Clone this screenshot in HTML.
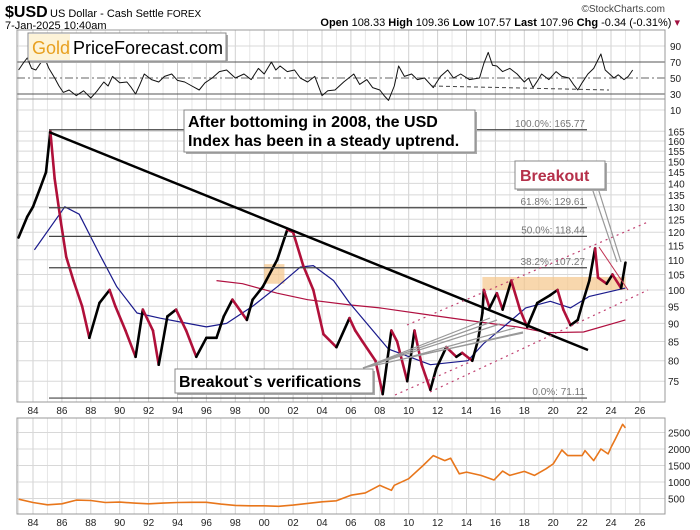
<!DOCTYPE html>
<html><head><meta charset="utf-8">
<style>
html,body{margin:0;padding:0;background:#fff;}
svg{display:block;font-family:"Liberation Sans",Arial,sans-serif;}
</style></head>
<body>
<svg id="chart" width="700" height="530" viewBox="0 0 700 530" xmlns="http://www.w3.org/2000/svg">
<g>
<text x="5" y="17" font-size="16" font-weight="bold">$USD</text>
<text x="50" y="17" font-size="11">US Dollar - Cash Settle <tspan font-size="10">FOREX</tspan></text>
<text x="5" y="29" font-size="11">7-Jan-2025 10:40am</text>
<text x="665" y="12" font-size="10" fill="#444" text-anchor="end">©StockCharts.com</text>
<text x="680" y="26" font-size="11" text-anchor="end"><tspan font-weight="bold">Open</tspan> 108.33 <tspan font-weight="bold">High</tspan> 109.36 <tspan font-weight="bold">Low</tspan> 107.57 <tspan font-weight="bold">Last</tspan> 107.96 <tspan font-weight="bold">Chg</tspan> -0.34 (-0.31%) <tspan fill="#a01040">▾</tspan></text>
</g>
<g id="grid"></g>
<g id="marks"></g>
<g id="overlay"></g>
</svg>
<script>
const priceYears=[1983.0,1983.6,1984.0,1984.5,1984.9,1985.2,1985.5,1985.9,1986.3,1986.8,1987.4,1987.9,1988.6,1989.3,1989.7,1990.4,1991.1,1991.6,1992.3,1992.7,1993.3,1993.9,1994.6,1995.3,1996.0,1996.7,1997.2,1997.8,1998.8,1999.2,1999.9,2000.9,2001.6,2002.0,2002.7,2003.4,2004.1,2005.0,2005.9,2006.3,2006.8,2007.7,2008.2,2008.8,2009.2,2009.9,2010.4,2010.9,2011.5,2011.9,2012.6,2013.3,2013.7,2014.4,2014.8,2015.1,2015.2,2015.6,2016.1,2016.5,2017.1,2017.7,2018.2,2018.9,2019.8,2020.3,2020.7,2021.2,2021.7,2022.1,2022.5,2022.9,2023.1,2023.7,2024.1,2024.7,2025.0];
const priceValues=[118,126,130,138,145,165,142,125,111,103,95,86,96,100,95,88,81,94,88,79,92,94,88,81,86,86,92,97,91,97,101,110,121,120,108,100,87,83.5,91.5,88,85,80,72,88,85,75,88,79,73,78,83.5,81,82,80,85.4,93,100,94.5,99,94,103,94,89,96,98.4,100,94,89.5,91,97,103,114,104,102,105,100.6,109];
const blueYears=[1984.1,1986.2,1987.2,1988.6,1989.8,1991.2,1992.8,1994.7,1996.0,1997.4,1999.2,2000.9,2002.5,2003.4,2004.8,2005.9,2008.6,2011.5,2014.1,2015.2,2016.7,2018.1,2019.8,2021.2,2022.5,2025.0];
const blueValues=[113.5,130,127,112,101,93,91.5,90,89,90,95,101,107.5,108,103,96,83,79,80,84.5,89.5,94.5,96.5,94.5,98,100.6];
const redYears=[1996.7,1998.5,2000.9,2003.0,2005.9,2008.0,2011.5,2014.9,2017.5,2019.6,2022.1,2025.0];
const redValues=[103,102,99,97,95.4,94.5,92.4,90.4,89,87.4,87.6,91];
const rsiYears=[1983.0,1983.3,1983.6,1983.9,1984.2,1984.5,1984.8,1985.1,1985.5,1985.8,1986.1,1986.5,1987.0,1987.5,1988.0,1988.4,1988.9,1989.2,1989.5,1990.0,1990.5,1990.8,1991.1,1991.4,1991.7,1992.2,1992.7,1993.1,1993.6,1994.0,1994.5,1995.0,1995.5,1995.9,1996.4,1996.9,1997.4,1998.0,1998.6,1999.1,1999.6,2000.0,2000.5,2000.8,2001.1,2001.6,2002.1,2002.5,2003.0,2003.5,2004.0,2004.4,2004.9,2005.5,2006.2,2006.6,2007.1,2007.5,2008.0,2008.3,2008.6,2009.0,2009.3,2009.7,2010.2,2010.6,2011.1,2011.4,2011.7,2012.2,2012.7,2013.1,2013.6,2014.2,2014.9,2015.2,2015.5,2015.8,2016.1,2016.5,2017.0,2017.5,2018.0,2018.3,2018.6,2018.9,2019.2,2019.7,2020.2,2020.6,2021.1,2021.4,2021.7,2022.0,2022.4,2022.8,2023.3,2023.6,2023.9,2024.2,2024.5,2024.9,2025.2,2025.5];
const rsiValues=[60,68,75,62,60,68,75,62,50,40,32,35,28,34,25,33,45,40,52,44,45,38,30,42,55,48,45,52,55,47,45,40,35,44,50,58,60,50,55,48,62,55,70,60,65,58,60,50,45,52,28,34,35,45,55,42,48,38,35,28,22,40,65,52,55,48,50,44,38,52,60,50,55,48,50,68,82,66,65,58,62,55,45,50,38,46,55,48,58,52,50,42,35,44,55,62,80,60,55,50,54,48,52,60];
const goldYears=[1983.0,1984.0,1985.0,1986.0,1987.0,1988.0,1989.0,1990.0,1991.0,1992.0,1993.0,1994.0,1995.0,1996.0,1997.0,1998.0,1999.0,2000.0,2001.0,2002.0,2003.0,2004.0,2005.0,2006.0,2007.0,2008.0,2008.8,2009.0,2010.0,2011.0,2011.7,2012.5,2012.9,2013.5,2014.0,2015.0,2015.9,2016.5,2017.0,2018.0,2018.7,2019.5,2020.0,2020.6,2021.0,2022.0,2022.2,2022.8,2023.3,2023.8,2024.0,2024.3,2024.8,2025.0];
const goldValues=[480,380,310,340,450,440,380,390,360,340,360,380,385,385,330,290,280,280,265,300,350,400,430,600,670,900,750,900,1100,1500,1800,1650,1720,1250,1300,1200,1060,1330,1200,1320,1200,1400,1550,1970,1800,1800,1950,1650,2000,1850,2050,2300,2750,2640];
const priceTicks=[75,80,85,90,95,100,105,110,115,120,125,130,135,140,145,150,155,160,165];
const rsiTicks=[10,30,50,70,90];
const goldTicks=[500,1000,1500,2000,2500];
const yearLabels=["84","86","88","90","92","94","96","98","00","02","04","06","08","10","12","14","16","18","20","22","24","26"];
const fibValues=[165.77,129.61,118.44,107.27,71.11];
const fibLabels=["100.0%: 165.77","61.8%: 129.61","50.0%: 118.44","38.2%: 107.27","0.0%: 71.11"];

const NS="http://www.w3.org/2000/svg";
const L=17,R=665;
function xs(y){return 33+(y-1984)*14.45;}
function ys(v){return 290-Math.log(v/100)*317;}
function ry(v){return 94-(v-30)*0.8;}
function gy(v){return 515-v*0.033;}
function mk(tag,attrs,parent,txt){const e=document.createElementNS(NS,tag);for(const k in attrs)e.setAttribute(k,attrs[k]);if(txt!==undefined)e.textContent=txt;parent.appendChild(e);return e;}
const grid=document.getElementById('grid'),marks=document.getElementById('marks'),ov=document.getElementById('overlay');
const panels=[[30,99],[99,402],[418,514]];
panels.forEach(function(p){
  for(let yr=1983;yr<=2026;yr++){
    const l=mk('line',{x1:xs(yr),x2:xs(yr),y1:p[0],y2:p[1],stroke:(yr%2===0)?'#d0d0d0':'#e6e6e6','stroke-width':1},grid);
    
    
  }
});
priceTicks.forEach(function(t){
  const l=mk('line',{x1:L,x2:R,y1:ys(t),y2:ys(t),stroke:'#d8d8d8'},grid);
  
  
  const tx=mk('text',{x:668,y:ys(t)+4,'font-size':10,fill:'#222'},grid,String(t));
  
  
});
rsiTicks.forEach(function(t){
  const dark=(t===30||t===70);
  const l=mk('line',{x1:L,x2:R,y1:ry(t),y2:ry(t),stroke:dark?'#555':(t===50?'#666':'#d8d8d8'),'stroke-dasharray':t===50?'8,3,2,3':'none'},grid);
  
  
  const tx=mk('text',{x:670,y:ry(t)+4,'font-size':10,fill:'#222'},grid,String(t));
  
  
});
goldTicks.forEach(function(t){
  const l=mk('line',{x1:L,x2:R,y1:gy(t),y2:gy(t),stroke:'#d8d8d8'},grid);
  
  
  const tx=mk('text',{x:668,y:gy(t)+4,'font-size':10,fill:'#222'},grid,String(t));
  
  
});
[[0,30,99],[1,99,402],[2,418,514]].forEach(function(p){
  const r=mk('rect',{x:L,y:p[1],width:R-L,height:p[2]-p[1],fill:'none',stroke:'#999'},grid);
  
  
});
yearLabels.forEach(function(s,i){
  [414,526].forEach(function(yy){
    const tx=mk('text',{x:33+i*28.9,y:yy,'font-size':10,fill:'#222','text-anchor':'middle'},grid,s);
    
    
  });
});
fibValues.forEach(function(v,i){
  const l=mk('line',{x1:49,x2:587,y1:ys(v),y2:ys(v),stroke:'#444','stroke-width':1.2},ov);
  
  
  const tx=mk('text',{x:585,y:ys(v)-3,'font-size':10,fill:'#777','text-anchor':'end'},ov,fibLabels[i]);
  
  
});
let z1=mk('rect',{x:xs(2000.0),y:ys(108.5),width:xs(2001.4)-xs(2000.0),height:ys(102)-ys(108.5),fill:'#f5c68a',opacity:0.7},marks);


let z2=mk('rect',{x:xs(2015.1),y:ys(104.2),width:xs(2025.0)-xs(2015.1),height:ys(100)-ys(104.2),fill:'#f5c68a',opacity:0.7},marks);


function poly(xsArr,vals,fx,fy,color,w,name){
  const pts=xsArr.map(function(x,i){return fx(x).toFixed(1)+','+fy(vals[i]).toFixed(1);}).join(' ');
  const p=mk('polyline',{points:pts,fill:'none',stroke:color,'stroke-width':w,'stroke-linejoin':'round'},marks);
  
  
}
poly(redYears,redValues,xs,ys,'#b01040',1.2,'moving-average-red');
poly(blueYears,blueValues,xs,ys,'#1a1a8c',1.2,'moving-average-blue');
for(let i=1;i<priceYears.length;i++){
  const up=priceValues[i]>=priceValues[i-1];
  const s=mk('line',{x1:xs(priceYears[i-1]),y1:ys(priceValues[i-1]),x2:xs(priceYears[i]),y2:ys(priceValues[i]),stroke:up?'#000':'#b0103a','stroke-width':2.6,'stroke-linecap':'round'},marks);
  
  
}
poly(rsiYears,rsiValues,xs,ry,'#111',1,'rsi-line');
poly(goldYears,goldValues,xs,gy,'#e8761b',1.6,'gold-price-line');
</script>
<script>
(function(){
const NS="http://www.w3.org/2000/svg";
const ov=document.getElementById('overlay');
function mk(tag,attrs,txt){const e=document.createElementNS(NS,tag);for(const k in attrs)e.setAttribute(k,attrs[k]);if(txt!==undefined)e.textContent=txt;ov.appendChild(e);return e;}
let e;
e=mk('line',{x1:49,y1:132,x2:588,y2:350,stroke:'#000','stroke-width':2.5});


[[407,325,648,222],[430,392,648,290],[395,395,470,362]].forEach(function(c){
  e=mk('line',{x1:c[0],y1:c[1],x2:c[2],y2:c[3],stroke:'#c04070','stroke-width':1.2,'stroke-dasharray':'2,4'});
  
  
});
[[363,368,490,318],[363,368,497,320],[363,368,500,324],[363,368,523,332],[410,357,523,333],[410,357,515,328]].forEach(function(c){
  e=mk('line',{x1:c[0],y1:c[1],x2:c[2],y2:c[3],stroke:'#999','stroke-width':1.2});
  
  
});
e=mk('line',{x1:599,y1:247,x2:628,y2:290,stroke:'#c03050','stroke-width':1});


[[592,188,617,262],[598,188,621,262]].forEach(function(c){
  e=mk('line',{x1:c[0],y1:c[1],x2:c[2],y2:c[3],stroke:'#999','stroke-width':1.2});
  
  
});
e=mk('line',{x1:432,y1:86,x2:609,y2:90,stroke:'#444','stroke-width':1,'stroke-dasharray':'4,3'});


function box(x,y,w,h,name){
  e=mk('rect',{x:x+2,y:y+2,width:w,height:h,fill:'#aaa'});
  
  
  e=mk('rect',{x:x,y:y,width:w,height:h,fill:'#fff',stroke:'#888'});
  
  
}
box(28,33,198,28,'logo-box');
e=mk('rect',{x:29,y:34,width:41,height:26,fill:'#fdf3d8'});


e=mk('text',{x:32,y:54,'font-size':18,fill:'#e8a020'},'Gold');


e=mk('text',{x:73,y:54,'font-size':18,fill:'#000'},'PriceForecast.com');


box(184,110,291,42,'uptrend-note-box');
e=mk('text',{x:188,y:127,'font-size':16,'font-weight':'bold'},'After bottoming in 2008, the USD');


e=mk('text',{x:188,y:146,'font-size':16,'font-weight':'bold'},'Index has been in a steady uptrend.');


box(515,161,90,28,'breakout-box');
e=mk('text',{x:520,y:181,'font-size':16,'font-weight':'bold',fill:'#b5304a'},'Breakout');


box(175,369,198,24,'verifications-box');
e=mk('text',{x:179,y:387,'font-size':16,'font-weight':'bold'},'Breakout`s verifications');


})();
</script>
</body></html>
